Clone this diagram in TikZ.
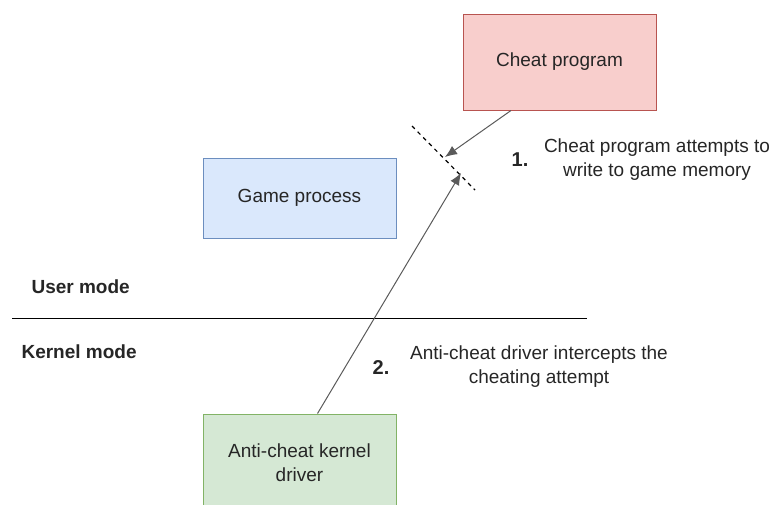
\documentclass[tikz,border=0pt]{standalone}
\usepackage{fontspec}
\setmainfont{Liberation Sans}
\usepackage{tikz}
\usetikzlibrary{arrows.meta}
\definecolor{CheatFill}{HTML}{F8CECC}
\definecolor{CheatLine}{HTML}{B85450}
\definecolor{GameFill}{HTML}{DAE8FC}
\definecolor{GameLine}{HTML}{6C8EBF}
\definecolor{DriverFill}{HTML}{D5E8D4}
\definecolor{DriverLine}{HTML}{82B366}
\definecolor{EdgeGray}{HTML}{5A5A5A}

\begin{document}
\begin{tikzpicture}[x=1pt, y=-1pt, >={Latex[length=12pt,width=10pt]},
                    every node/.style={font=\fontsize{19}{24}\selectfont, text=black!85, align=center},
                    procbox/.style={draw, line width=1pt, inner sep=0pt,
                                    minimum width=193pt},
                    modelabel/.style={font=\fontsize{19}{24}\selectfont\bfseries, anchor=west},
                    edge/.style={draw=EdgeGray, line width=1pt}]
\useasboundingbox (0,0) rectangle (772,504);
\node[procbox, fill=CheatFill, draw=CheatLine, minimum height=96pt] (cheat) at (559.5,62) {Cheat program};
\node[procbox, fill=GameFill, draw=GameLine, minimum height=80pt] (game) at (299.5,198) {Game process};
\node[procbox, fill=DriverFill, draw=DriverLine, minimum height=98pt] (driver) at (299.5,463) {Anti-cheat kernel\\driver};
\node[modelabel] (user) at (28,287) {User mode};
\node[modelabel] (kernel) at (18,352) {Kernel mode};
\coordinate (sepL) at (12,318);
\coordinate (sepR) at (587,318);
\draw[line width=1pt, black] (sepL) -- (sepR);
% blocked write
\coordinate (blockA) at (412,126);
\coordinate (blockB) at (475,190);
\draw[dashed, line width=1.2pt, dash pattern=on 4pt off 4pt] (blockA) -- (blockB);
\coordinate (hit1) at (445,157);
\coordinate (hit2) at (461,173);
\draw[->, edge] (cheat.-135) -- (hit1);
\draw[->, edge] (driver.70) -- (hit2);
\node[font=\fontsize{20}{24}\selectfont\bfseries] (num1) at (520,160) {1.};
\node (step1) at (657,160) {Cheat program attempts to\\write to game memory};
\node[font=\fontsize{20}{24}\selectfont\bfseries] (num2) at (381,368) {2.};
\node (step2) at (539,367) {Anti-cheat driver intercepts the\\cheating attempt};
\end{tikzpicture}
\end{document}
